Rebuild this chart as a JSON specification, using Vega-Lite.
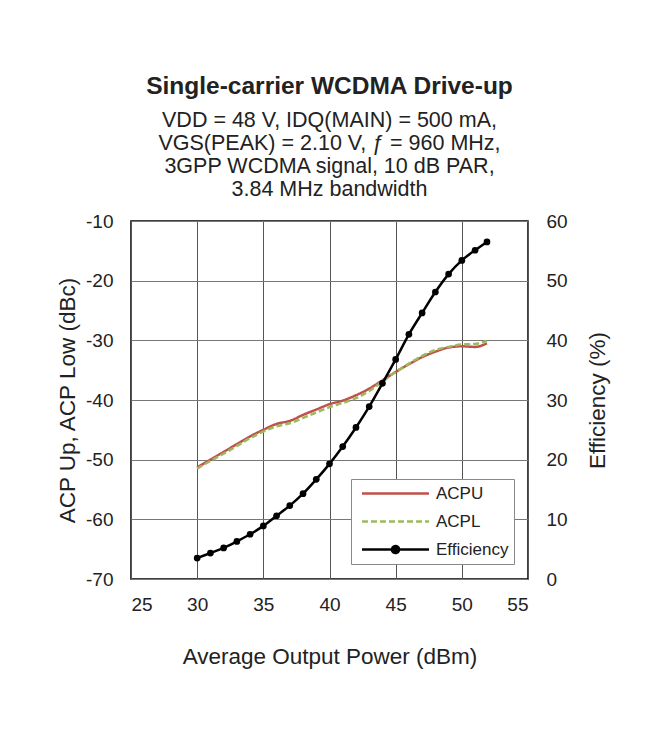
{
  "$schema": "https://vega.github.io/schema/vega-lite/v6.json",
  "width": 397,
  "height": 358,
  "autosize": {"type": "none"},
  "padding": {"left": 131, "top": 221, "right": 125, "bottom": 152},
  "background": "white",
  "title": {
    "text": "Single-carrier WCDMA Drive-up",
    "subtitle": ["VDD = 48 V, IDQ(MAIN) = 500 mA,", "VGS(PEAK) = 2.10 V, ƒ = 960 MHz,", "3GPP WCDMA signal, 10 dB PAR,", "3.84 MHz bandwidth"],
    "anchor": "middle",
    "frame": "group",
    "offset": 10,
    "font": "Liberation Sans",
    "fontSize": 24.5,
    "fontWeight": "bold",
    "color": "#222222",
    "subtitleFont": "Liberation Sans",
    "subtitleFontSize": 21.5,
    "subtitleColor": "#222222",
    "subtitleLineHeight": 23.2,
    "subtitlePadding": 10
  },
  "data": {
    "values": [
      {"x": 30, "series": "ACPU", "v": -51.3},
      {"x": 31, "series": "ACPU", "v": -50.0},
      {"x": 32, "series": "ACPU", "v": -48.7},
      {"x": 33, "series": "ACPU", "v": -47.4},
      {"x": 34, "series": "ACPU", "v": -46.1},
      {"x": 35, "series": "ACPU", "v": -45.0},
      {"x": 36, "series": "ACPU", "v": -44.0},
      {"x": 37, "series": "ACPU", "v": -43.5},
      {"x": 38, "series": "ACPU", "v": -42.5},
      {"x": 39, "series": "ACPU", "v": -41.6},
      {"x": 40, "series": "ACPU", "v": -40.7},
      {"x": 41, "series": "ACPU", "v": -40.1},
      {"x": 42, "series": "ACPU", "v": -39.2},
      {"x": 43, "series": "ACPU", "v": -38.1},
      {"x": 44, "series": "ACPU", "v": -36.7},
      {"x": 45, "series": "ACPU", "v": -35.3},
      {"x": 46, "series": "ACPU", "v": -34.0},
      {"x": 47, "series": "ACPU", "v": -32.8},
      {"x": 48, "series": "ACPU", "v": -31.9},
      {"x": 49, "series": "ACPU", "v": -31.2},
      {"x": 50, "series": "ACPU", "v": -31.0},
      {"x": 51, "series": "ACPU", "v": -31.1},
      {"x": 51.9, "series": "ACPU", "v": -30.5},
      {"x": 30, "series": "ACPL", "v": -51.5},
      {"x": 31, "series": "ACPL", "v": -50.2},
      {"x": 32, "series": "ACPL", "v": -49.0},
      {"x": 33, "series": "ACPL", "v": -47.7},
      {"x": 34, "series": "ACPL", "v": -46.4},
      {"x": 35, "series": "ACPL", "v": -45.3},
      {"x": 36, "series": "ACPL", "v": -44.4},
      {"x": 37, "series": "ACPL", "v": -43.9},
      {"x": 38, "series": "ACPL", "v": -43.0},
      {"x": 39, "series": "ACPL", "v": -42.1},
      {"x": 40, "series": "ACPL", "v": -41.2},
      {"x": 41, "series": "ACPL", "v": -40.5},
      {"x": 42, "series": "ACPL", "v": -39.7},
      {"x": 43, "series": "ACPL", "v": -38.5},
      {"x": 44, "series": "ACPL", "v": -36.9},
      {"x": 45, "series": "ACPL", "v": -35.3},
      {"x": 46, "series": "ACPL", "v": -33.9},
      {"x": 47, "series": "ACPL", "v": -32.6},
      {"x": 48, "series": "ACPL", "v": -31.6},
      {"x": 49, "series": "ACPL", "v": -31.1},
      {"x": 50, "series": "ACPL", "v": -30.7},
      {"x": 51, "series": "ACPL", "v": -30.6},
      {"x": 51.9, "series": "ACPL", "v": -30.1},
      {"x": 30, "series": "Efficiency", "v": 3.5},
      {"x": 31, "series": "Efficiency", "v": 4.35},
      {"x": 32, "series": "Efficiency", "v": 5.2},
      {"x": 33, "series": "Efficiency", "v": 6.3},
      {"x": 34, "series": "Efficiency", "v": 7.5},
      {"x": 35, "series": "Efficiency", "v": 8.9},
      {"x": 36, "series": "Efficiency", "v": 10.6},
      {"x": 37, "series": "Efficiency", "v": 12.3},
      {"x": 38, "series": "Efficiency", "v": 14.3},
      {"x": 39, "series": "Efficiency", "v": 16.7},
      {"x": 40, "series": "Efficiency", "v": 19.3},
      {"x": 41, "series": "Efficiency", "v": 22.2},
      {"x": 42, "series": "Efficiency", "v": 25.4},
      {"x": 43, "series": "Efficiency", "v": 28.9},
      {"x": 44, "series": "Efficiency", "v": 32.8},
      {"x": 45, "series": "Efficiency", "v": 36.8},
      {"x": 46, "series": "Efficiency", "v": 41.0},
      {"x": 47, "series": "Efficiency", "v": 44.6},
      {"x": 48, "series": "Efficiency", "v": 48.1},
      {"x": 49, "series": "Efficiency", "v": 51.1},
      {"x": 50, "series": "Efficiency", "v": 53.4},
      {"x": 51, "series": "Efficiency", "v": 55.1},
      {"x": 51.9, "series": "Efficiency", "v": 56.5}
    ]
  },
  "layer": [
    {
      "transform": [{"filter": "datum.series !== 'Efficiency'"}],
      "mark": {"type": "line", "strokeWidth": 2.5, "interpolate": "monotone"},
      "encoding": {
        "x": {
          "field": "x", "type": "quantitative",
          "scale": {"domain": [25, 55], "nice": false},
          "axis": {"values": [25, 30, 35, 40, 45, 50, 55], "title": "Average Output Power (dBm)", "grid": true, "gridColor": "#555555", "gridWidth": 1, "labelPadding": 16, "titlePadding": 31}
        },
        "y": {
          "field": "v", "type": "quantitative",
          "scale": {"domain": [-70, -10], "nice": false},
          "axis": {"orient": "left", "values": [-70, -60, -50, -40, -30, -20, -10], "labelExpr": "'' + datum.value", "title": "ACP Up, ACP Low (dBc)", "grid": true, "gridColor": "#777777", "gridWidth": 1, "labelPadding": 18, "titlePadding": 6}
        },
        "color": {
          "field": "series", "type": "nominal",
          "scale": {"domain": ["ACPU", "ACPL", "Efficiency"], "range": ["#c0504d", "#9bbb59", "#000000"]},
          "legend": {
            "title": null,
            "orient": "none",
            "legendX": 220,
            "legendY": 258,
            "fillColor": "white",
            "strokeColor": "#888888",
            "padding": 5,
            "rowPadding": 10,
            "symbolSize": 256,
            "symbolStrokeWidth": 2.5,
            "labelOffset": 61,
            "labelFontSize": 17,
            "labelFont": "Liberation Sans",
            "labelColor": "#222222",
            "symbolType": {"expr": "datum.value === 'Efficiency' ? 'M-0.44,0L7.94,0M3.31,0a0.44,0.44 0 1,0 0.88,0a0.44,0.44 0 1,0 -0.88,0' : 'M-0.44,0L7.94,0'"},
            "symbolDash": {"expr": "datum.value === 'ACPL' ? [6,3] : [1,0]"},
            "symbolFillColor": {"expr": "datum.value === 'Efficiency' ? '#000000' : 'transparent'"}
          }
        },
        "strokeDash": {
          "field": "series", "type": "nominal",
          "scale": {"domain": ["ACPU", "ACPL"], "range": [[1, 0], [6, 3]]},
          "legend": null
        }
      }
    },
    {
      "transform": [{"filter": "datum.series === 'Efficiency'"}],
      "mark": {"type": "line", "strokeWidth": 2.5, "interpolate": "monotone", "point": {"filled": true, "size": 45, "color": "#000000"}},
      "encoding": {
        "x": {"field": "x", "type": "quantitative"},
        "y": {
          "field": "v", "type": "quantitative",
          "scale": {"domain": [0, 60], "nice": false},
          "axis": {"orient": "right", "values": [0, 10, 20, 30, 40, 50, 60], "title": "Efficiency (%)", "grid": false, "labelPadding": 18, "titlePadding": 42, "titleAngle": 270}
        },
        "color": {"field": "series", "type": "nominal"}
      }
    }
  ],
  "resolve": {"scale": {"y": "independent"}},
  "config": {
    "view": {"stroke": "#000000", "strokeWidth": 1.5},
    "axis": {
      "domain": false,
      "ticks": false,
      "labelFont": "Liberation Sans",
      "labelFontSize": 19,
      "labelColor": "#222222",
      "titleFont": "Liberation Sans",
      "titleFontSize": 22.5,
      "titleFontWeight": "normal",
      "titleColor": "#222222"
    }
  }
}
